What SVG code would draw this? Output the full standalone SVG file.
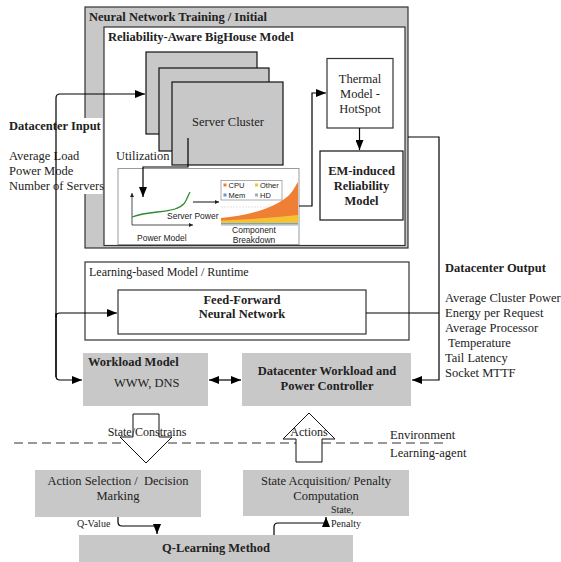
<svg xmlns="http://www.w3.org/2000/svg" width="561" height="562" viewBox="0 0 561 562">
<defs>
<marker id="ah" markerUnits="userSpaceOnUse" markerWidth="10" markerHeight="8" refX="10" refY="4" orient="auto-start-reverse"><path d="M0,0 L10,4 L0,8 Z" fill="#000"/></marker>
<marker id="sm" markerUnits="userSpaceOnUse" markerWidth="4" markerHeight="4" refX="4" refY="2" orient="auto"><path d="M0,0 L4,2 L0,4 Z" fill="#222"/></marker>
<style>
.t{font-family:"Liberation Serif","Times New Roman",serif;font-size:12.5px;fill:#222}
.b{font-weight:bold}
.m{text-anchor:middle}
.sm{font-size:10px}
.md{font-size:12px}
.s{font-family:"Liberation Sans",Arial,sans-serif;fill:#222}
.gray{fill:#c8c8c8}
.box{fill:#fff;stroke:#333;stroke-width:1.2}
.card{fill:#c8c8c8;stroke:#111;stroke-width:1.2}
.ln{fill:none;stroke:#000;stroke-width:1.2}
.hol{fill:#fff;stroke:#111;stroke-width:1}
</style>
</defs>
<rect width="561" height="562" fill="#fff"/>

<g id="nn-training">
<rect x="85" y="7" width="323" height="241" fill="#c8c8c8" stroke="#333" stroke-width="1.2"/>
<text class="t b" x="89" y="21">Neural Network Training / Initial</text>
</g>

<g id="bighouse">
<rect x="104" y="27" width="301" height="218.5" class="box"/>
<text class="t b" x="108" y="41">Reliability-Aware BigHouse Model</text>
</g>

<g id="datacenter-input">
<rect x="0" y="118" width="102.5" height="76" fill="#fff"/>
<text class="t b" x="9" y="130">Datacenter Input</text>
<text class="t" x="9" y="159.5">Average Load</text>
<text class="t" x="9" y="174.5">Power Mode</text>
<text class="t" x="9" y="189.5">Number of Servers</text>
</g>

<g id="server-cluster">
<rect x="146" y="52" width="111" height="82" class="card"/>
<rect x="159" y="68" width="110" height="83" class="card"/>
<rect x="172" y="82" width="111" height="83" class="card"/>
<text class="t m" x="228" y="126">Server Cluster</text>
</g>

<g id="utilization">
<text class="t" x="116" y="160">Utilization</text>
</g>

<g id="power-model">
<rect x="118" y="168.5" width="181" height="76" fill="#fff" stroke="#999" stroke-width="1"/>
<path d="M132 225 V193" fill="none" stroke="#222" stroke-width="0.8" marker-end="url(#sm)"/>
<path d="M132 225 H193" fill="none" stroke="#222" stroke-width="0.8" marker-end="url(#sm)"/>
<path d="M132 217 C 148 211, 163 213, 175 209 S 186 199, 190 192" fill="none" stroke="#2e8b2e" stroke-width="1.3"/>
<text class="s" x="167" y="219" font-size="8.5">Server Power</text>
<text class="s" x="137" y="241" font-size="8.5">Power Model</text>
<path d="M193 202 H219" fill="none" stroke="#111" stroke-width="1" marker-end="url(#sm)"/>
<line x1="221" y1="207" x2="270" y2="207" stroke="#ccc" stroke-width="0.6" stroke-dasharray="2 1"/>
<path d="M221 218 C 240 216, 262 212, 278 203 S 294 187, 298 182 V223 H221 Z" fill="#ef7f35"/>
<path d="M221 220.5 Q 262 219, 298 215 V223 H221 Z" fill="#f6c232"/>
<rect x="221" y="223" width="77" height="1.6" fill="#6aa6d8"/>
<rect x="221" y="224.6" width="77" height="1" fill="#bbb"/>
<rect x="221" y="180.5" width="61" height="19.5" fill="#fff" stroke="#777" stroke-width="0.6"/>
<rect x="223.5" y="183.5" width="3" height="3" fill="#ef7f35"/>
<text class="s" x="228.5" y="188" font-size="7.5">CPU</text>
<rect x="255" y="183.5" width="3" height="3" fill="#f6c232"/>
<text class="s" x="260" y="188" font-size="7.5">Other</text>
<rect x="223.5" y="193.5" width="3" height="3" fill="#5b9bd5"/>
<text class="s" x="228.5" y="198" font-size="7.5">Mem</text>
<rect x="255" y="193.5" width="3" height="3" fill="#aaa"/>
<text class="s" x="260" y="198" font-size="7.5">HD</text>
<text class="s m" x="254" y="233" font-size="8.5">Component</text>
<text class="s m" x="254" y="243" font-size="8.5">Breakdown</text>
</g>

<g id="thermal">
<rect x="327" y="58.5" width="66" height="69.5" class="box"/>
<text class="t m" x="360" y="82.5">Thermal</text>
<text class="t m" x="360" y="97.5">Model -</text>
<text class="t m" x="360" y="112.5">HotSpot</text>
</g>

<g id="em-reliability">
<rect x="320" y="151" width="83" height="69" fill="#fff" stroke="#111" stroke-width="1.2"/>
<text class="t b m" x="361.5" y="175">EM-induced</text>
<text class="t b m" x="361.5" y="190">Reliability</text>
<text class="t b m" x="361.5" y="204.5">Model</text>
</g>

<g id="learning-model">
<rect x="85" y="262" width="324" height="78" class="box"/>
<text class="t md" x="89" y="276">Learning-based Model / Runtime</text>
</g>

<g id="feed-forward">
<rect x="118" y="290" width="248" height="44" class="box"/>
<text class="t b m" x="242" y="304">Feed-Forward</text>
<text class="t b m" x="242" y="318">Neural Network</text>
</g>

<g id="datacenter-output">
<text class="t b" x="445" y="272">Datacenter Output</text>
<text class="t" x="445" y="302">Average Cluster Power</text>
<text class="t" x="445" y="317">Energy per Request</text>
<text class="t" x="445" y="332">Average Processor</text>
<text class="t" x="445" y="347" style="white-space:pre"> Temperature</text>
<text class="t" x="445" y="362">Tail Latency</text>
<text class="t" x="445" y="377">Socket MTTF</text>
</g>

<g id="workload-model">
<rect x="83" y="353" width="125" height="53" class="gray"/>
<text class="t b" x="88" y="366">Workload Model</text>
<text class="t" x="114" y="387">WWW, DNS</text>
</g>

<g id="controller">
<rect x="242" y="353" width="169" height="53" class="gray"/>
<text class="t b m" x="327" y="375">Datacenter Workload and</text>
<text class="t b m" x="327" y="390">Power Controller</text>
</g>

<g id="action-selection">
<rect x="35" y="470" width="166" height="47" class="gray"/>
<text class="t m" x="118" y="485" style="white-space:pre">Action Selection /  Decision</text>
<text class="t m" x="118" y="500">Marking</text>
</g>

<g id="state-acquisition">
<rect x="243" y="470" width="166" height="46" class="gray"/>
<text class="t m" x="326" y="485">State Acquisition/ Penalty</text>
<text class="t m" x="326" y="500">Computation</text>
</g>

<g id="q-learning">
<rect x="79" y="535" width="274" height="27" class="gray"/>
<text class="t b m" x="216" y="552">Q-Learning Method</text>
</g>

<g id="environment-boundary">
<line x1="14" y1="443" x2="448" y2="443" stroke="#333" stroke-width="1.2" stroke-dasharray="9 5"/>
<text class="t" x="390" y="439">Environment</text>
<text class="t" x="390" y="457">Learning-agent</text>
</g>

<g id="connectors">
<path class="ln" d="M56 377 V98 Q56 94 60 94 H145" marker-end="url(#ah)"/>
<path class="ln" d="M56 313 V376 Q56 380 60 380 H82" marker-end="url(#ah)"/>
<path class="ln" d="M56 317 Q56 313 60 313 H117" marker-end="url(#ah)"/>
<path class="ln" d="M188 138 V167 H143 V197" marker-end="url(#ah)"/>
<path class="ln" d="M299 206 H312 V93 H326" marker-end="url(#ah)"/>
<path class="ln" d="M359.5 128 V150" marker-end="url(#ah)"/>
<path class="ln" d="M408 137 H439 V380 H412" marker-end="url(#ah)"/>
<path class="ln" d="M366 313 H439"/>
<path class="ln" d="M209 380 H241" marker-start="url(#ah)" marker-end="url(#ah)"/>
<path class="ln" d="M118 517 V522 Q118 526 122 526 H157 V534" marker-end="url(#ah)"/>
<path class="ln" d="M274 535 V527 Q274 523 278 523 H326 V517" marker-end="url(#ah)"/>
<polygon class="hol" points="133,414 159,414 159,437 172,437 146,463 120,437 133,437"/>
<polygon class="hol" points="309,413 335,439 322,439 322,462 296,462 296,439 283,439"/>
<text class="t m md" x="147" y="436">State/Constrains</text>
<text class="t m md" x="309" y="436">Actions</text>
<text class="t sm" x="77" y="527">Q-Value</text>
<text class="t sm" x="331" y="513">State,</text>
<text class="t sm" x="331" y="527">Penalty</text>
</g>
</svg>
